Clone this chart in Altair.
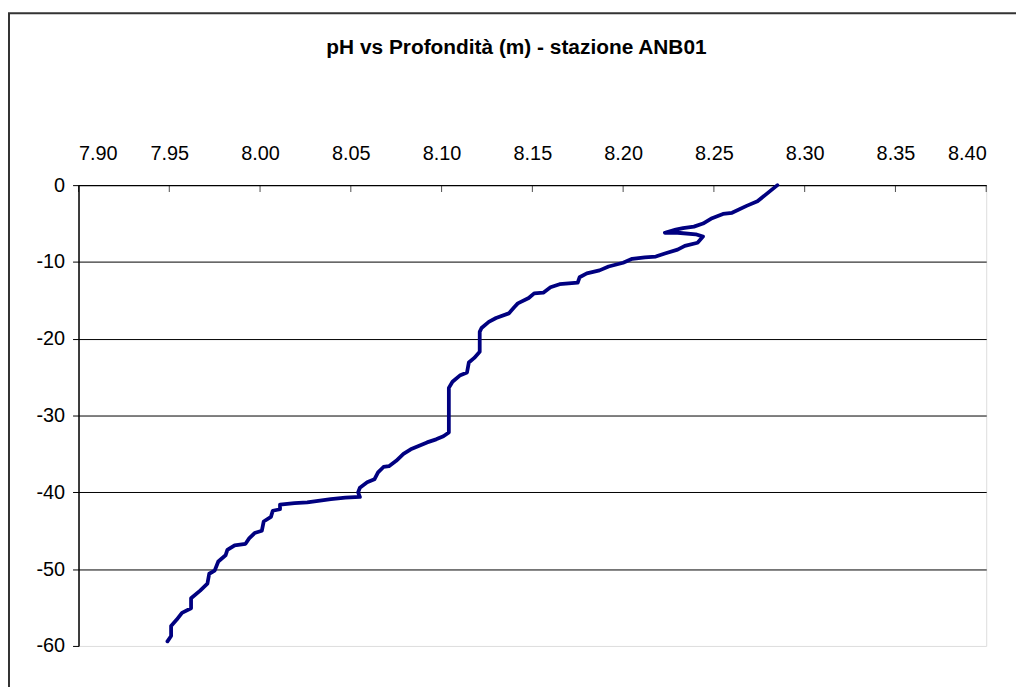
import altair as alt
import pandas as pd

# Profile points (pH, depth in m), in depth order
ph = [8.285, 8.274, 8.268, 8.260, 8.255, 8.249, 8.244, 8.239, 8.233, 8.229,
      8.223, 8.230, 8.240, 8.244, 8.241, 8.234, 8.230, 8.223, 8.218, 8.212,
      8.205, 8.200, 8.192, 8.187, 8.180, 8.176, 8.175, 8.170, 8.165, 8.160,
      8.156, 8.151, 8.148, 8.142, 8.140, 8.137, 8.130, 8.126, 8.122, 8.121,
      8.121, 8.118, 8.115, 8.114, 8.110, 8.106, 8.104, 8.104, 8.101, 8.097,
      8.092, 8.087, 8.083, 8.079, 8.075, 8.071, 8.068, 8.065, 8.063, 8.059,
      8.055, 8.054, 8.055, 8.047, 8.039, 8.026, 8.019, 8.011, 8.011, 8.007,
      8.006, 8.002, 8.001, 7.997, 7.994, 7.992, 7.986, 7.982, 7.981, 7.977,
      7.975, 7.972, 7.971, 7.967, 7.962, 7.962, 7.957, 7.954, 7.951, 7.951,
      7.949]
depth = [0.0, -2.1, -2.7, -3.6, -3.75, -4.3, -5.0, -5.4, -5.6, -5.8,
         -6.2, -6.2, -6.4, -6.7, -7.5, -7.9, -8.4, -8.9, -9.3, -9.4,
         -9.6, -10.1, -10.6, -11.1, -11.5, -12.0, -12.7, -12.8, -12.9, -13.3,
         -14.0, -14.1, -14.7, -15.4, -15.9, -16.7, -17.3, -17.8, -18.6, -19.1,
         -21.7, -22.5, -23.1, -24.4, -24.8, -25.6, -26.4, -32.2, -32.7, -33.1,
         -33.5, -34.0, -34.4, -35.0, -35.9, -36.6, -36.7, -37.4, -38.3, -38.7,
         -39.4, -40.0, -40.6, -40.7, -40.9, -41.3, -41.4, -41.6, -42.2, -42.4,
         -43.2, -43.8, -45.0, -45.3, -46.0, -46.7, -46.9, -47.5, -48.2, -49.0,
         -50.2, -50.6, -51.9, -52.8, -53.8, -55.1, -55.7, -56.6, -57.4, -58.7,
         -59.4]

x_ticks = [7.90, 7.95, 8.00, 8.05, 8.10, 8.15, 8.20, 8.25, 8.30, 8.35, 8.40]
y_ticks = [0, -10, -20, -30, -40, -50, -60]
title_text = ["pH vs Profondità (m) - stazione ANB01"]

df = pd.DataFrame({"ph": ph, "depth": depth, "idx": list(range(len(ph)))})
ticks_df = pd.DataFrame({"ph": x_ticks})
frame_df = pd.DataFrame({"a": [0]})
title_df = pd.DataFrame({"t": title_text})

FONT = "Liberation Sans"
xscale = alt.Scale(domain=[7.90, 8.40], nice=False, zero=False)
yscale = alt.Scale(domain=[-60, 0], nice=False, zero=False)

line = alt.Chart(df).mark_line(color="#000080", strokeWidth=3.8, strokeJoin="round",
                               strokeCap="round").encode(
    x=alt.X("ph:Q", scale=xscale,
            axis=alt.Axis(orient="top", values=x_ticks, format=".2f", ticks=False,
                          tickSize=0, labelPadding=22, grid=False, title=None,
                          domainColor="black", domainWidth=1.5,
                          labelFont=FONT, labelFontSize=20, labelColor="black")),
    y=alt.Y("depth:Q", scale=yscale,
            axis=alt.Axis(values=y_ticks, tickSize=6, tickColor="black",
                          labelExpr="datum.value == 0 ? '0' : '-' + abs(datum.value)",
                          labelPadding=8, grid=True, title=None,
                          gridColor={"condition": {"test": "datum.value === -60 || datum.value === 0",
                                                   "value": "transparent"},
                                     "value": "#000000"},
                          domainColor="black", domainWidth=1.5,
                          labelFont=FONT, labelFontSize=20, labelColor="black")),
    order="idx:Q",
)

inner_ticks = alt.Chart(ticks_df).mark_tick(color="black", thickness=1, size=7, yOffset=3.5).encode(
    x=alt.X("ph:Q", scale=xscale),
    y=alt.value(0),
)

frame = alt.Chart(frame_df).mark_rect(filled=False, stroke="#333333", strokeWidth=2).encode(
    x=alt.value(-70), x2=alt.value(980), y=alt.value(-173), y2=alt.value(540),
)

title = alt.Chart(title_df).mark_text(font=FONT, fontSize=21, fontWeight="bold", color="black",
                                      align="center", baseline="alphabetic").encode(
    text="t:N", x=alt.value(441), y=alt.value(-132),
)

chart = alt.layer(frame, line, inner_ticks, title).properties(
    width=914, height=464,
    autosize=alt.AutoSizeParams(type="none"),
    padding={"left": 71, "top": 176, "right": 30, "bottom": 40},
).configure_view(stroke="#808080", strokeWidth=2).configure(background="white")

chart.save("out.html", embed_options={"renderer": "svg", "actions": False})
